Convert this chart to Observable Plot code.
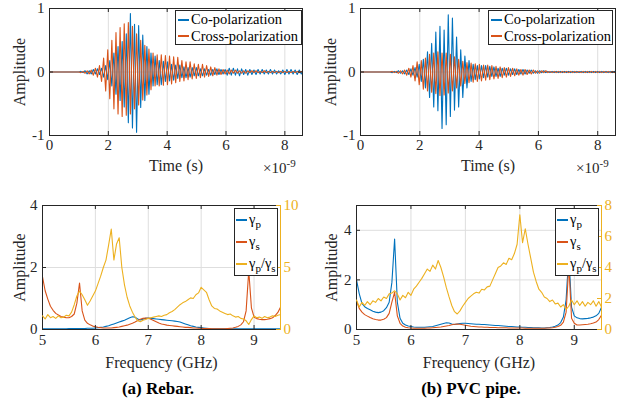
<!DOCTYPE html>
<html><head><meta charset="utf-8">
<script src="https://cdn.jsdelivr.net/npm/d3@7"></script>
<script src="https://cdn.jsdelivr.net/npm/@observablehq/plot@0.6"></script>
<style>
body{margin:0;background:#fff;}
#fig{position:relative;width:636px;height:407px;overflow:hidden;background:#fff;}
#fig, #fig *{font-family:"Liberation Serif","Times New Roman",serif !important;}
.p{position:absolute;}
.legend{position:absolute;background:#fff;border:1px solid #262626;box-sizing:border-box;color:#000;}
.legend .row{position:absolute;left:2px;white-space:nowrap;}
.legend .sw{display:inline-block;width:11px;height:2px;vertical-align:middle;margin-right:2px;position:relative;top:-1px;}
.tl{font-size:14.5px;}
.gl{font-size:14.5px;}
.gl sub{font-size:11px;vertical-align:-4px;line-height:0;}
.exp{position:absolute;font-size:15px;color:#262626;white-space:nowrap;}
.exp sup{font-size:11px;vertical-align:6px;line-height:0;}
.cap{position:absolute;font-weight:bold;font-size:17px;color:#000;white-space:nowrap;transform:translateX(-50%);}
</style></head><body><div id="fig"></div><script>
// ---------- data ----------
const timeNs = [0,
1.00,1.07,1.14,1.21,1.28,1.35,1.42,1.49,1.56,1.63,
1.70,1.77,1.84,1.91,1.98,2.05,2.12,2.19,2.26,2.33,
2.40,2.47,2.54,2.61,2.68,2.75,2.82,2.89,2.96,3.03,
3.10,3.17,3.24,3.31,3.38,3.45,3.52,3.59,3.66,3.73,
3.80,3.87,3.94,4.01,4.08,4.15,4.22,4.29,4.36,4.43,
4.50,4.57,4.64,4.71,4.78,4.85,4.92,4.99,5.06,5.13,
5.20,5.27,5.34,5.41,5.48,5.55,5.62,5.69,5.76,5.83,
5.90,5.97,6.04,6.11,6.18,6.25,6.32,6.39,6.46,6.53,
6.60,6.67,6.74,6.81,6.88,6.95,7.02,7.09,7.16,7.23,
7.30,7.37,7.44,7.51,7.58,7.65,7.72,7.79,7.86,7.93,
8.00,8.07,8.14,8.21,8.28,8.35,8.42,8.49,8.56, 8.60];

const rebarCo = [0,
0.00,0.01,-0.01,0.02,-0.03,0.02,-0.03,0.04,-0.03,0.05,
-0.04,0.06,-0.08,0.10,-0.12,0.18,-0.22,0.30,-0.35,0.40,
-0.45,0.48,-0.55,0.60,-0.80,0.92,-0.88,0.75,-0.95,0.73,
-0.56,0.58,-0.45,0.40,-0.35,0.30,-0.22,0.25,-0.20,0.18,
-0.20,0.17,-0.15,0.16,-0.14,0.12,-0.13,0.11,-0.10,0.11,
-0.09,0.08,-0.09,0.07,-0.08,0.07,-0.06,0.07,-0.06,0.05,
-0.06,0.05,-0.05,0.04,-0.05,0.04,-0.04,0.05,-0.04,0.04,
-0.03,0.04,-0.05,0.06,-0.05,0.06,-0.05,0.05,-0.06,0.05,
-0.04,0.04,-0.05,0.04,-0.04,0.03,-0.04,0.04,-0.03,0.04,
-0.03,0.03,-0.03,0.04,-0.03,0.03,-0.03,0.02,-0.03,0.03,
-0.04,0.04,-0.03,0.04,-0.03,0.03,-0.04,0.03,-0.03, 0];

const rebarCross = [0,
0.00,-0.01,0.01,-0.02,0.02,-0.03,0.03,-0.05,0.06,-0.08,
0.10,-0.15,0.22,-0.30,0.35,-0.42,0.50,-0.58,0.62,-0.66,
0.70,-0.70,0.76,-0.68,0.78,-0.66,0.72,-0.58,0.60,-0.52,
0.50,-0.44,0.42,-0.36,0.36,-0.28,0.30,-0.22,0.27,-0.22,
0.27,-0.21,0.26,-0.20,0.25,-0.19,0.24,-0.17,0.23,-0.15,
0.18,-0.14,0.16,-0.12,0.16,-0.11,0.13,-0.10,0.12,-0.09,
0.12,-0.08,0.10,-0.07,0.08,-0.06,0.07,-0.05,0.05,-0.04,
0.04,-0.03,0.03,-0.03,0.03,-0.02,0.03,-0.02,0.02,-0.02,
0.02,-0.02,0.02,-0.01,0.02,-0.01,0.02,-0.01,0.01,-0.01,
0.02,-0.01,0.01,-0.01,0.01,-0.01,0.01,-0.01,0.01,-0.01,
0.01,-0.01,0.01,-0.01,0.01,-0.01,0.01,-0.01,0.01, 0];

const pvcCo = [0,
0.00,-0.01,0.01,-0.01,0.02,-0.02,0.02,-0.03,0.03,-0.04,
0.05,-0.05,0.07,-0.08,0.12,-0.15,0.20,-0.25,0.32,-0.40,
0.45,-0.55,0.63,-0.61,0.72,-0.89,0.66,-0.83,0.90,-0.70,
0.85,-0.60,0.55,-0.55,0.35,-0.40,0.25,-0.25,0.18,-0.15,
0.12,-0.12,0.10,-0.11,0.10,-0.09,0.10,-0.08,0.09,-0.07,
0.08,-0.07,0.06,-0.07,0.06,-0.05,0.06,-0.05,0.05,-0.04,
0.05,-0.04,0.04,-0.03,0.04,-0.03,0.03,-0.02,0.03,-0.02,
0.02,-0.02,0.02,-0.01,0.02,-0.01,0.01,-0.01,0.01,-0.01,
0.01,-0.01,0.01,-0.01,0.01,-0.01,0.01,-0.01,0.01,-0.01,
0.01,-0.01,0.01,-0.01,0.01,-0.01,0.01,-0.01,0.01,-0.01,
0.01,-0.01,0.01,-0.01,0.01,-0.01,0.01,-0.01,0.01, 0];

const pvcCross = [0,
0.00,0.01,-0.01,0.01,-0.02,0.02,-0.03,0.03,-0.05,0.06,
-0.08,0.10,-0.14,0.16,-0.20,0.18,-0.27,0.22,-0.30,0.28,
-0.32,0.30,-0.34,0.32,-0.37,0.30,-0.36,0.30,-0.33,0.28,
-0.30,0.24,-0.25,0.20,-0.22,0.17,-0.18,0.15,-0.17,0.14,
-0.16,0.13,-0.15,0.12,-0.14,0.11,-0.13,0.11,-0.12,0.10,
-0.11,0.09,-0.10,0.08,-0.09,0.07,-0.08,0.07,-0.07,0.06,
-0.06,0.05,-0.05,0.04,-0.05,0.04,-0.04,0.03,-0.03,0.03,
-0.02,0.02,-0.02,0.02,-0.01,0.02,-0.01,0.01,-0.01,0.01,
-0.01,0.01,-0.01,0.01,-0.01,0.01,-0.01,0.01,-0.01,0.01,
-0.01,0.01,-0.01,0.01,-0.01,0.01,-0.01,0.01,-0.01,0.01,
-0.01,0.01,-0.01,0.01,-0.01,0.01,-0.01,0.01,-0.01, 0];

const freqGHz = [
5.00,5.05,5.10,5.15,5.20,5.25,5.30,5.35,5.40,5.45,
5.50,5.55,5.60,5.65,5.70,5.75,5.80,5.85,5.90,5.95,
6.00,6.05,6.10,6.15,6.20,6.25,6.30,6.35,6.40,6.45,
6.50,6.55,6.60,6.65,6.70,6.75,6.80,6.85,6.90,6.95,
7.00,7.05,7.10,7.15,7.20,7.25,7.30,7.35,7.40,7.45,
7.50,7.55,7.60,7.65,7.70,7.75,7.80,7.85,7.90,7.95,
8.00,8.05,8.10,8.15,8.20,8.25,8.30,8.35,8.40,8.45,
8.50,8.55,8.60,8.65,8.70,8.75,8.80,8.85,8.90,8.95,
9.00,9.05,9.10,9.15,9.20,9.25,9.30,9.35,9.40,9.45,
9.50];

const rebarGp = [
0.02,0.02,0.02,0.02,0.02,0.02,0.02,0.02,0.02,0.02,
0.03,0.03,0.03,0.03,0.03,0.03,0.03,0.04,0.04,0.04,
0.05,0.06,0.07,0.08,0.10,0.12,0.15,0.18,0.21,0.24,
0.27,0.30,0.34,0.38,0.41,0.40,0.34,0.31,0.33,0.36,
0.37,0.36,0.35,0.34,0.33,0.32,0.31,0.30,0.29,0.28,
0.27,0.26,0.24,0.21,0.18,0.15,0.12,0.10,0.08,0.07,
0.06,0.05,0.04,0.03,0.02,0.02,0.02,0.02,0.02,0.02,
0.02,0.02,0.02,0.02,0.02,0.02,0.02,0.02,0.02,0.02,
0.02,0.02,0.02,0.02,0.02,0.02,0.02,0.02,0.02,0.02,
0.02];
const rebarGs = [
1.70,1.25,0.98,0.75,0.62,0.52,0.47,0.42,0.40,0.38,
0.38,0.42,0.50,0.85,1.50,0.60,0.30,0.20,0.15,0.11,
0.09,0.07,0.06,0.05,0.05,0.05,0.05,0.06,0.07,0.08,
0.10,0.12,0.14,0.17,0.20,0.24,0.29,0.33,0.36,0.37,
0.36,0.33,0.29,0.25,0.21,0.18,0.16,0.14,0.13,0.12,
0.11,0.10,0.09,0.08,0.07,0.07,0.06,0.05,0.05,0.04,
0.04,0.03,0.03,0.03,0.02,0.02,0.02,0.02,0.02,0.02,
0.03,0.04,0.05,0.07,0.10,0.15,0.25,0.60,1.90,0.70,
0.40,0.35,0.33,0.32,0.32,0.33,0.35,0.38,0.45,0.55,
0.72];
const rebarRatio = [
1.10,0.85,1.20,0.95,1.05,0.90,1.10,0.95,1.00,1.15,
1.10,1.40,2.00,2.70,3.10,2.80,2.40,1.95,2.30,2.70,
3.10,3.70,4.30,5.00,5.60,6.80,8.10,5.60,6.90,7.40,
5.00,3.60,2.60,1.90,1.40,1.00,0.70,0.62,0.75,0.80,
0.90,0.95,1.00,1.05,1.10,1.05,1.15,1.20,1.35,1.45,
1.60,1.80,2.00,2.15,2.25,2.40,2.55,2.50,2.80,2.95,
3.40,3.20,3.00,2.40,1.90,1.70,1.65,1.50,1.40,1.30,
1.20,1.25,1.10,1.00,1.05,0.90,0.85,0.70,0.40,0.80,
1.10,0.95,1.00,0.90,1.05,0.95,1.00,1.10,1.05,1.15,
1.20];

const pvcGp = [
2.00,1.45,1.05,0.92,0.85,0.80,0.74,0.70,0.68,0.70,
0.76,0.88,1.10,1.90,3.65,1.10,0.45,0.25,0.18,0.14,
0.12,0.10,0.09,0.09,0.09,0.09,0.10,0.11,0.12,0.15,
0.18,0.21,0.24,0.27,0.26,0.22,0.20,0.22,0.24,0.25,
0.25,0.24,0.23,0.22,0.21,0.21,0.20,0.20,0.19,0.18,
0.17,0.16,0.16,0.15,0.14,0.13,0.12,0.12,0.11,0.10,
0.10,0.09,0.09,0.08,0.08,0.07,0.07,0.07,0.06,0.06,
0.07,0.08,0.10,0.13,0.18,0.28,0.50,1.20,3.00,0.90,
0.55,0.47,0.44,0.43,0.44,0.45,0.47,0.50,0.55,0.65,
0.90];
const pvcGs = [
1.15,0.85,0.70,0.60,0.54,0.48,0.43,0.40,0.38,0.38,
0.41,0.48,0.65,1.10,1.50,0.55,0.25,0.14,0.09,0.07,
0.06,0.05,0.05,0.05,0.05,0.05,0.06,0.06,0.07,0.08,
0.09,0.10,0.12,0.14,0.16,0.19,0.21,0.22,0.21,0.19,
0.17,0.15,0.13,0.12,0.11,0.10,0.10,0.09,0.09,0.08,
0.08,0.08,0.07,0.07,0.07,0.07,0.06,0.06,0.06,0.06,
0.06,0.06,0.05,0.05,0.05,0.05,0.05,0.05,0.05,0.05,
0.06,0.06,0.07,0.09,0.12,0.17,0.30,0.70,2.60,0.45,
0.25,0.18,0.18,0.19,0.20,0.21,0.23,0.26,0.30,0.40,
0.58];
const pvcRatio = [
1.90,1.45,1.75,1.55,1.80,1.60,1.85,1.75,2.00,1.85,
2.10,2.00,2.30,2.35,2.50,2.30,1.90,2.20,2.05,2.40,
2.20,2.60,2.80,3.05,3.30,3.60,3.90,3.75,4.15,3.90,
4.45,4.00,3.40,2.70,2.10,1.55,1.15,1.00,1.20,1.50,
1.75,2.00,2.15,2.30,2.40,2.35,2.60,2.55,2.75,2.80,
3.20,3.60,4.00,4.10,4.30,4.20,4.60,4.50,4.90,5.50,
7.40,5.60,6.50,5.50,4.60,3.70,3.10,2.60,2.40,2.10,
2.00,1.80,1.90,1.65,1.70,1.45,1.60,1.30,1.50,1.90,
1.60,1.85,1.55,1.80,1.50,1.75,1.60,1.85,1.50,1.80,
1.45];

const timeTicks = [0, 2, 4, 6, 8];
const ampTicks = [-1, 0, 1];
const freqTicks = [5, 6, 7, 8, 9];
const rebarAmpTicks = [0, 2, 4];
const rebarRatioTicks = [0, 5, 10];
const pvcAmpTicks = [0, 2, 4];
const pvcRatioTicks = [0, 2, 4, 6, 8];
const timeLegend = ["Co-polarization", "Cross-polarization"];
const captions = ["(a) Rebar.", "(b) PVC pipe."];

// ---------- drawing ----------
const COL = {blue:"#0072BD", red:"#D95319", yellow:"#EDB120", axis:"#262626", grid:"#DEDEDE"};
const FONT = "'Liberation Serif', 'Times New Roman', serif";
const fig = document.getElementById("fig");
const fmt = d => String(d);

function place(el, left, top) {
  const d = document.createElement("div");
  d.className = "p"; d.style.left = left + "px"; d.style.top = top + "px";
  d.appendChild(el); fig.appendChild(d); return d;
}
function fixText(svg) {
  svg.querySelectorAll("text").forEach(t => t.setAttribute("font-family", FONT));
  svg.querySelectorAll('g[aria-label="x-axis label"], g[aria-label="y-axis label"]').forEach(g => {
    g.setAttribute("font-size", "16"); g.querySelectorAll("text").forEach(t => t.setAttribute("font-size", "16"));
  });
  return svg;
}
function inwardTicks(xt, yt, pw, ph, color, sides) {
  const m = [];
  if (sides.includes("b")) m.push(Plot.tickX(xt, {x: d => d, stroke: color, insetTop: ph - 4}));
  if (sides.includes("t")) m.push(Plot.tickX(xt, {x: d => d, stroke: color, insetBottom: ph - 4}));
  if (sides.includes("l")) m.push(Plot.tickY(yt, {y: d => d, stroke: color, insetRight: pw - 4}));
  if (sides.includes("r")) m.push(Plot.tickY(yt, {y: d => d, stroke: color, insetLeft: pw - 4}));
  return m;
}

function timePanel(co, cross, left, W, ml, mr) {
  const H = 186, mt = 9, mb = 50;
  const pw = W - ml - mr, ph = H - mt - mb;
  const svg = Plot.plot({
    width: W, height: H, marginLeft: ml, marginRight: mr, marginTop: mt, marginBottom: mb,
    style: {fontFamily: FONT, fontSize: "15px", color: COL.axis, background: "transparent", overflow: "visible"},
    x: {domain: [0, 8.6]}, y: {domain: [-1, 1]},
    marks: [
      Plot.gridX(timeTicks, {stroke: COL.grid, strokeOpacity: 1}),
      Plot.gridY(ampTicks, {stroke: COL.grid, strokeOpacity: 1}),
      Plot.lineY(co, {x: timeNs, stroke: COL.blue, strokeWidth: 1.1, clip: true}),
      Plot.lineY(cross, {x: timeNs, stroke: COL.red, strokeWidth: 1.1, clip: true}),
      Plot.frame({stroke: COL.axis}),
      ...inwardTicks(timeTicks, ampTicks, pw, ph, COL.axis, "btlr"),
      Plot.axisX(timeTicks, {tickSize: 0, tickPadding: 4, tickFormat: fmt, label: "Time (s)", labelAnchor: "center", labelArrow: "none", labelOffset: 35}),
      Plot.axisY(ampTicks, {tickSize: 0, tickPadding: 5, tickFormat: fmt, label: "Amplitude", labelAnchor: "center", labelArrow: "none", labelOffset: 36})
    ]
  });
  place(fixText(svg), left, -1);
}

function freqPanel(gp, gs, ratio, yMax, yTicks, rMax, rTicks, left, W, ml, mr, labOff) {
  const H = 190, mt = 15, mb = 51;
  const pw = W - ml - mr, ph = H - mt - mb;
  const common = {width: W, height: H, marginLeft: ml, marginRight: mr, marginTop: mt, marginBottom: mb,
    style: {fontFamily: FONT, fontSize: "15px", color: COL.axis, background: "transparent", overflow: "visible"}};
  const main = Plot.plot({
    ...common,
    x: {domain: [5, 9.5]}, y: {domain: [0, yMax]},
    marks: [
      Plot.gridX(freqTicks, {stroke: COL.grid, strokeOpacity: 1}),
      Plot.gridY(yTicks, {stroke: COL.grid, strokeOpacity: 1}),
      Plot.line(gp, {x: freqGHz, y: gp, stroke: COL.blue, strokeWidth: 1.1, clip: true}),
      Plot.line(gs, {x: freqGHz, y: gs, stroke: COL.red, strokeWidth: 1.1, clip: true}),
      Plot.frame({stroke: COL.axis}),
      ...inwardTicks(freqTicks, yTicks, pw, ph, COL.axis, "btl"),
      Plot.axisX(freqTicks, {tickSize: 0, tickPadding: 5, tickFormat: fmt, label: "Frequency (GHz)", labelAnchor: "center", labelArrow: "none", labelOffset: 38}),
      Plot.axisY(yTicks, {tickSize: 0, tickPadding: 5, tickFormat: fmt, label: "Amplitude", labelAnchor: "center", labelArrow: "none", labelOffset: labOff})
    ]
  });
  place(fixText(main), left, 190);
  const over = Plot.plot({
    ...common,
    x: {domain: [5, 9.5], axis: null}, y: {domain: [0, rMax]},
    marks: [
      Plot.line(ratio, {x: freqGHz, y: ratio, stroke: COL.yellow, strokeWidth: 1.1, clip: true}),
      Plot.frame({anchor: "right", stroke: COL.yellow}),
      ...inwardTicks(freqTicks, rTicks, pw, ph, COL.yellow, "r"),
      Plot.axisY(rTicks, {anchor: "right", tickSize: 0, tickPadding: 3, tickFormat: fmt, color: COL.yellow, label: null})
    ]
  });
  place(fixText(over), left, 190);
}

timePanel(rebarCo, rebarCross, 0, 318, 49, 16);
timePanel(pvcCo, pvcCross, 316, 320, 44, 21);
freqPanel(rebarGp, rebarGs, rebarRatio, 4, rebarAmpTicks, 10, rebarRatioTicks, 0, 318, 42, 38, 29);
freqPanel(pvcGp, pvcGs, pvcRatio, 5, pvcAmpTicks, 8, pvcRatioTicks, 316, 320, 40, 35, 31);

// legends
function timeLegendBox(left, width) {
  const L = document.createElement("div");
  L.className = "legend tl";
  L.style.cssText = `left:${left}px;top:10px;width:${width}px;height:35px;`;
  [COL.blue, COL.red].forEach((c, i) => {
    const r = document.createElement("div"); r.className = "row";
    r.style.top = (i === 0 ? 0 : 16.5) + "px";
    r.innerHTML = `<span class="sw" style="background:${c}"></span>${timeLegend[i]}`;
    L.appendChild(r);
  });
  fig.appendChild(L);
}
timeLegendBox(175, 127);
timeLegendBox(488, 125);

function freqLegendBox(left) {
  const L = document.createElement("div");
  L.className = "legend gl";
  L.style.cssText = `left:${left}px;top:208px;width:44px;height:68px;`;
  const items = [[COL.blue, "γ<sub>p</sub>"], [COL.red, "γ<sub>s</sub>"], [COL.yellow, "γ<sub>p</sub>/γ<sub>s</sub>"]];
  items.forEach(([c, t], i) => {
    const r = document.createElement("div"); r.className = "row";
    r.style.top = (2 + i * 22) + "px"; r.style.left = "1px";
    r.innerHTML = `<span class="sw" style="background:${c}"></span>${t}`;
    L.appendChild(r);
  });
  fig.appendChild(L);
}
freqLegendBox(234);
freqLegendBox(555);

// exponent labels
[[263, 160], [576, 160]].forEach(([x, y]) => {
  const e = document.createElement("div"); e.className = "exp";
  e.style.left = x + "px"; e.style.top = y + "px";
  e.innerHTML = "×10<sup>-9</sup>";
  fig.appendChild(e);
});
// captions
[[158, 379, captions[0]], [471, 379, captions[1]]].forEach(([x, y, t]) => {
  const c = document.createElement("div"); c.className = "cap";
  c.style.left = x + "px"; c.style.top = y + "px"; c.textContent = t;
  fig.appendChild(c);
});
</script></body></html>
